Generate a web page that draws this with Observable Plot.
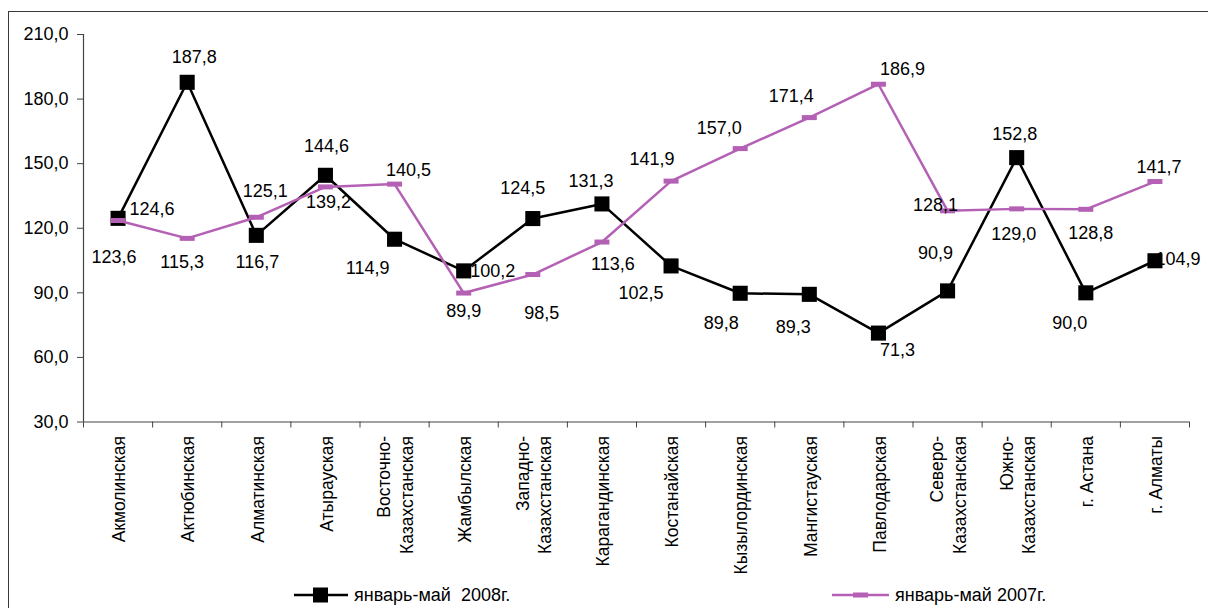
<!DOCTYPE html>
<html>
<head>
<meta charset="utf-8">
<script src="https://cdn.jsdelivr.net/npm/d3@7"></script>
<script src="https://cdn.jsdelivr.net/npm/@observablehq/plot@0.6"></script>
<style>
  html, body { margin: 0; padding: 0; background: #fff; overflow: hidden; }
  body { width: 1208px; height: 608px; position: relative; font-family: "Liberation Sans", Arial, sans-serif; }
  #frame { position: absolute; left: 8px; top: 11px; width: 1220px; height: 620px; border: 1.5px solid #3a3a3a; box-sizing: border-box; }
  #chart { position: absolute; left: 0; top: 0; }
  .leg { position: absolute; top: 585px; height: 20px; display: flex; align-items: center; font-size: 18px; color: #000; white-space: pre; }
  .leg svg { margin-right: 6px; }
</style>
</head>
<body>
<div id="frame"></div>
<div id="chart"></div>
<div class="leg" style="left:294px"><svg width="54" height="20"><line x1="0" y1="10" x2="54" y2="10" stroke="#000" stroke-width="2.5"/><rect x="19" y="2.5" width="15" height="15" fill="#000"/></svg>январь-май  2008г.</div>
<div class="leg" style="left:832px"><svg width="57" height="20"><line x1="0" y1="10" x2="57" y2="10" stroke="#b460b4" stroke-width="2.5"/><rect x="21" y="7.5" width="15" height="5" fill="#b460b4"/></svg>январь-май 2007г.</div>
<script>
const categories = ["Акмолинская", "Актюбинская", "Алматинская", "Атырауская", "Восточно-\nКазахстанская", "Жамбылская", "Западно-\nКазахстанская", "Карагандинская", "Костанайская", "Кызылординская", "Мангистауская", "Павлодарская", "Северо-\nКазахстанская", "Южно-\nКазахстанская", "г. Астана", "г. Алматы"];
const values2008 = [124.6, 187.8, 116.7, 144.6, 114.9, 100.2, 124.5, 131.3, 102.5, 89.8, 89.3, 71.3, 90.9, 152.8, 90.0, 104.9];
const values2007 = [123.6, 115.3, 125.1, 139.2, 140.5, 89.9, 98.5, 113.6, 141.9, 157.0, 171.4, 186.9, 128.1, 129.0, 128.8, 141.7];
const yTicks = [30, 60, 90, 120, 150, 180, 210];

// label offsets (px) relative to each point
const off2008 = [[34,-9],[7,-25],[1,27],[1,-29],[-27,29],[29,0],[-10,-30],[-11,-23],[-30,27],[-19,30],[-16,33],[19,17],[-12,-38],[-2,-23],[-16,30],[23,-2]];
const off2007 = [[-4,37],[-5,24],[9,-26],[3,15],[14,-14],[0,18],[9,39],[11,22],[-19,-22],[-21,-20],[-18,-21],[24,-15],[-12,-6],[-3,25],[5,24],[4,-14]];

const purple = "#b460b4";
const fmt = v => v.toFixed(1).replace(".", ",");

const d08 = values2008.map((v, i) => ({i, x: i + 0.5, v, dx: off2008[i][0], dy: off2008[i][1]}));
const d07 = values2007.map((v, i) => ({i, x: i + 0.5, v, dx: off2007[i][0], dy: off2007[i][1]}));
const cats = categories.map((c, i) => ({c, x: i + 0.5}));

const dashSymbol = { draw(ctx) { ctx.rect(-7.5, -2.5, 15, 5); } };

const labelMarks = (data, fill) => data.map(d => Plot.text([d], {
  x: "x", y: "v", text: d => fmt(d.v), dx: d.dx, dy: d.dy,
  fill, fontSize: 18, textAnchor: "middle", lineAnchor: "middle"
}));

const chart = Plot.plot({
  width: 1208,
  height: 608,
  marginLeft: 83,
  marginRight: 19,
  marginTop: 34,
  marginBottom: 186.5,
  style: { fontFamily: "'Liberation Sans', Arial, sans-serif", fontSize: "18px", color: "#000", background: "transparent", overflow: "visible" },
  x: { type: "linear", domain: [0, 16] },
  y: { domain: [30, 210] },
  marks: [
    Plot.axisY({ ticks: yTicks, tickSize: 6, tickPadding: 9, tickFormat: fmt, label: null, stroke: "#444", fontSize: 18 }),
    Plot.axisX({ ticks: d3.range(17), tickSize: 6, tickFormat: () => "", label: null, stroke: "#444" }),
    Plot.ruleY([30], { stroke: "#444", strokeWidth: 1.2 }),
    Plot.ruleX([0], { stroke: "#444", strokeWidth: 1.2 }),
    Plot.text(cats, { x: "x", frameAnchor: "bottom", text: "c", rotate: -90, textAnchor: "end", lineAnchor: "middle", lineHeight: 1.3, dy: 14, fontSize: 17.5, fill: "#000" }),
    Plot.line(d08, { x: "x", y: "v", stroke: "#000", strokeWidth: 2.5 }),
    Plot.dot(d08, { x: "x", y: "v", symbol: "square", fill: "#000", stroke: "none", r: 8.5 }),
    Plot.line(d07, { x: "x", y: "v", stroke: purple, strokeWidth: 2.5 }),
    Plot.dot(d07, { x: "x", y: "v", symbol: dashSymbol, fill: purple, stroke: "none", r: 5 }),
    ...labelMarks(d08, "#000"),
    ...labelMarks(d07, "#000")
  ]
});
document.getElementById("chart").appendChild(chart);
</script>
</body>
</html>
